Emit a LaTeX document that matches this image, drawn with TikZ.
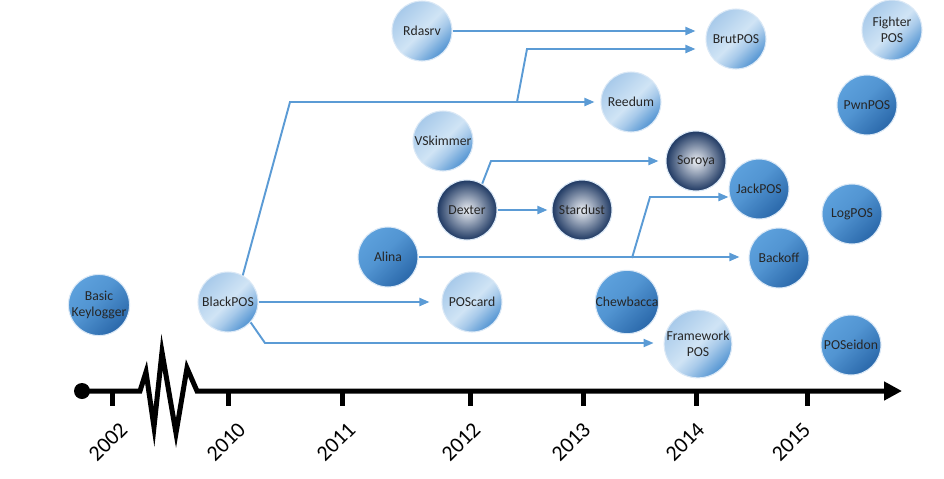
\documentclass[tikz,border=0pt]{standalone}
\usepackage{fontspec}
\setmainfont{Carlito}
\usetikzlibrary{arrows.meta}

\definecolor{linkblue}{RGB}{91,155,213}
\definecolor{ballrim}{RGB}{218,232,246}
\definecolor{paleA}{RGB}{168,202,234}
\definecolor{paleB}{RGB}{208,228,245}
\definecolor{paleC}{RGB}{82,148,210}
\definecolor{midA}{RGB}{92,160,220}
\definecolor{midB}{RGB}{42,104,170}
\definecolor{darkin}{RGB}{236,239,244}
\definecolor{darkout}{RGB}{30,56,98}

\pgfdeclarehorizontalshading{paleshade}{100bp}{color(0bp)=(paleA); color(25bp)=(paleA); color(50bp)=(paleB); color(60bp)=(paleA); color(75bp)=(paleC); color(100bp)=(paleC)}
\pgfdeclarehorizontalshading{midshade}{100bp}{color(0bp)=(midA); color(25bp)=(midA); color(45bp)=(midA!80!midB); color(75bp)=(midB); color(100bp)=(midB)}

\begin{document}
\begin{tikzpicture}[x=0.02cm, y=-0.02cm,
	ball/.style={circle, minimum size=1.2cm, inner sep=0pt, draw=ballrim, line width=0.6pt,
		font=\fontsize{7.8}{9}\selectfont, align=center, text=black!85},
	palenode/.style={ball, shading=paleshade, shading angle=-45},
	bluenode/.style={ball, shading=midshade, shading angle=-45},
	darknode/.style={ball, inner color=darkin, outer color=darkout},
	link/.style={draw=linkblue, line width=1.1pt, -{Triangle[length=0.2cm,width=0.16cm]}},
	yearlabel/.style={rotate=45, font=\fontsize{12.5}{14}\selectfont}]

	\useasboundingbox (0,0) rectangle (944,478);

	% time line
	\node[circle, fill, minimum size=0.32cm, inner sep=0pt] (origin) at (82,391) {};
	\draw[line width=0.1cm, -{Triangle[length=0.36cm,width=0.36cm]}] (origin.center) -- (140,391) -- (146,372) -- (154,427) -- (162,352) -- (176,433) -- (187,368) -- (197,391) -- (902,391);
	\foreach \x in {112,228,342,470,583,696,807}
		\draw[line width=0.1cm] (\x,391) -- (\x,406);
	\foreach \x/\yr in {108/2002, 226/2010, 336/2011, 461/2012, 571/2013, 685/2014, 791/2015}
		\node[yearlabel] (year\yr) at (\x,442) {\yr};

	% families
	\node[bluenode] (keylogger) at (99,305) {Basic\\Keylogger};
	\node[palenode] (blackpos) at (228,302) {BlackPOS};
	\node[palenode] (poscard) at (472,302) {POScard};
	\node[bluenode] (chewbacca) at (627,302) {Chewbacca};
	\node[palenode] (framework) at (698,344) {Framework\\POS};
	\node[bluenode] (poseidon) at (851,345) {POSeidon};
	\node[bluenode] (alina) at (388,257) {Alina};
	\node[bluenode] (backoff) at (779,258) {Backoff};
	\node[bluenode] (logpos) at (852,214) {LogPOS};
	\node[bluenode] (jackpos) at (759,189) {JackPOS};
	\node[darknode] (dexter) at (467,210) {Dexter};
	\node[darknode] (stardust) at (582,210) {Stardust};
	\node[darknode] (soroya) at (696,161) {Soroya};
	\node[palenode] (vskimmer) at (443,141) {VSkimmer};
	\node[palenode] (reedum) at (631,102) {Reedum};
	\node[bluenode] (pwnpos) at (867,105) {PwnPOS};
	\node[palenode] (rdasrv) at (422,31) {Rdasrv};
	\node[palenode] (brutpos) at (736,39) {BrutPOS};
	\node[palenode] (fighterpos) at (892,30) {Fighter\\POS};

	% bends
	\coordinate (bend1) at (290,102);
	\coordinate (bend2) at (517,102);
	\coordinate (bend3) at (527,49);
	\coordinate (bend4) at (265,343);
	\coordinate (bend5) at (632,258);
	\coordinate (bend6) at (650,197);
	\coordinate (bend7) at (491,161);

	% links
	\draw[link, shorten >=0.2cm] (rdasrv.east) -- (rdasrv.east -| brutpos.west);
	\draw[link, shorten >=0.12cm] (blackpos.61) -- (bend1) -- (reedum.west);
	\draw[link, shorten >=0.2cm] (bend2) -- (bend3) -- (bend3 -| brutpos.west);
	\draw[link, shorten >=0.24cm] (blackpos.east) -- (poscard.west);
	\draw[link, shorten >=0.2cm] (blackpos.-42) -- (bend4) -- (bend4 -| framework.west);
	\draw[link, shorten >=0.18cm] (alina.east) -- (alina.east -| backoff.west);
	\draw[link] (bend5) -- (bend6) -- (bend6 -| jackpos.west);
	\draw[link, shorten >=0.08cm] (dexter.east) -- (stardust.west);
	\draw[link, shorten >=0.14cm] (dexter.60) -- (bend7) -- (bend7 -| soroya.west);
\end{tikzpicture}
\end{document}
